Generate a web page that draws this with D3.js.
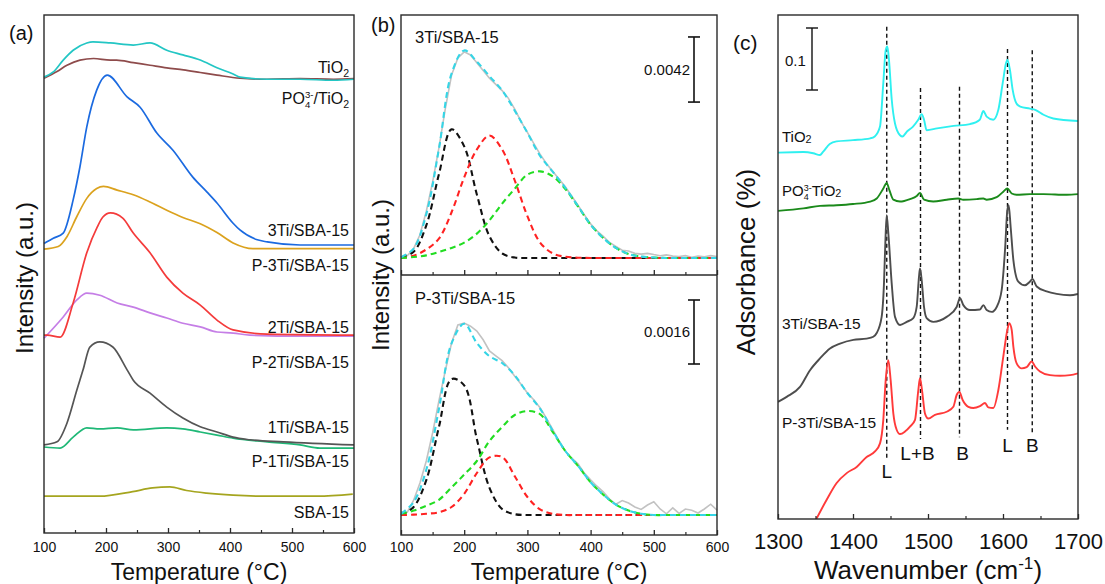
<!DOCTYPE html>
<html>
<head>
<meta charset="utf-8">
<script src="https://cdn.jsdelivr.net/npm/d3@7"></script>
<style>
  body { margin: 0; background: #fff; }
  svg { display: block; }
  text { font-family: "Liberation Sans", Arial, Helvetica, sans-serif; fill: #111; }
</style>
</head>
<body>
<svg id="chart" width="1105" height="584"></svg>
<script>
// ---------------- Panel (a): NH3-TPD profiles, [temperature (°C), intensity (a.u.)] ----------------
const tpdTiO2 = [[100,88.0],[115,89.0],[131,91.3],[147,93.2],[169,94.6],[179,94.8],[207,94.6],[244,94.2],[271,94.6],[298,93.2],[324,92.3],[352,91.3],[379,89.8],[405,88.6],[416,88.0],[460,87.6],[513,87.6],[566,87.4],[600,87.6]];
const tpdPO4TiO2 = [[100,87.8],[121,89.1],[137,90.3],[158,91.3],[180,91.6],[207,91.3],[217,91.3],[244,90.8],[271,90.3],[298,89.8],[325,89.4],[352,88.9],[379,88.4],[416,87.8],[459,87.6],[513,87.7],[567,87.6],[600,87.7]];
const tpd3Ti = [[100,55.9],[115,56.9],[131,57.9],[147,64.3],[158,70.7],[169,78.4],[185,85.5],[202,88.4],[234,84.2],[255,82.2],[282,77.2],[308,73.9],[340,68.7],[363,65.8],[379,63.7],[405,59.8],[416,58.5],[444,56.6],[460,56.2],[513,55.6],[600,55.6]];
const tpdP3Ti = [[100,54.8],[123,55.3],[137,57.2],[153,61.1],[169,64.6],[185,66.5],[196,66.9],[218,66.2],[244,65.3],[271,63.9],[298,62.3],[324,60.9],[352,59.7],[379,58.0],[405,56.0],[437,54.9],[513,54.9],[600,54.9]];
const tpd2Ti = [[100,38.2],[105,38.2],[126,37.8],[147,44.4],[169,54.1],[186,59.1],[195,61.0],[207,61.8],[227,60.8],[244,57.9],[271,54.1],[298,49.4],[324,46.3],[352,44.0],[379,41.1],[405,39.2],[460,38.4],[600,38.2]];
const tpdP2Ti = [[100,37.6],[131,41.7],[153,45.0],[169,46.3],[190,45.9],[218,44.4],[244,43.6],[271,42.5],[298,41.5],[324,40.5],[352,39.8],[379,38.8],[405,38.6],[432,38.2],[513,38.0],[600,38.0]];
const tpd1Ti = [[100,17.0],[121,17.6],[137,21.2],[153,27.6],[163,31.5],[174,35.9],[190,36.9],[211,35.9],[234,31.5],[244,29.5],[271,27.0],[298,24.3],[324,22.2],[352,20.5],[379,19.5],[405,18.5],[432,18.0],[486,17.6],[600,17.0]];
const tpdP1Ti = [[100,16.6],[126,16.4],[147,18.5],[169,20.3],[190,20.1],[218,20.3],[244,19.9],[298,20.3],[324,20.1],[352,19.5],[379,18.9],[405,18.3],[460,17.6],[513,17.0],[545,16.4],[600,16.4]];
const tpdSBA = [[100,7.1],[190,7.1],[243,8.0],[275,8.7],[303,8.9],[330,8.2],[362,7.7],[405,7.3],[460,7.1],[541,7.1],[598,7.5]];

// ---------------- Panel (b): peak fitting, intensity in units of 1e-3 ----------------
const measTemps = [100,110,120,130,140,150,160,170,180,190,200,210,220,230,240,250,260,270,280,290,300,310,320,330,340,350,360,370,380,390,400,410,420,430,440,450,460,470,480,490,500,510,520,530,540,550,560,570,580,590,600];
const fitTemps = [100,120,140,160,180,200,220,240,260,280,300,320,340,360,380,400,420,440,460,480,500,520,540,560,580,600];

const meas3Ti = [0.0,0.15,0.6,1.5,3.0,4.9,7.1,9.6,11.8,12.9,13.3,13.1,12.6,12.1,11.6,11.2,10.8,10.3,9.6,8.8,8.1,7.4,6.7,6.1,5.6,5.1,4.6,4.0,3.4,2.8,2.2,1.75,1.4,1.0,0.75,0.5,0.45,0.3,0.25,0.3,0.22,0.15,0.2,0.12,0.1,0.15,0.05,0.12,0.08,0.15,0.1];
const fit3TiPeak1 = [0.05,0.4,2.1,5.4,8.3,7.2,4.1,1.4,0.3,0.03,0,0,0,0,0,0,0,0,0,0,0,0,0,0,0,0];
const fit3TiPeak2 = [0,0.15,0.55,1.25,2.95,5.2,7.0,7.9,7.0,5.0,2.7,1.0,0.3,0.08,0.02,0,0,0,0,0,0,0,0,0,0,0];
const fit3TiPeak3 = [0,0.06,0.17,0.39,0.65,0.99,1.57,2.43,3.51,4.47,5.38,5.59,5.27,4.45,3.33,2.15,1.29,0.65,0.26,0.09,0.03,0,0,0,0,0];
const fit3TiSum = [0.05,0.61,2.82,7.04,11.9,13.39,12.67,11.73,10.81,9.5,8.08,6.59,5.57,4.53,3.35,2.15,1.29,0.65,0.26,0.09,0.03,0,0,0,0,0];

const measP3Ti = [0.08,0.07,0.37,0.8,1.35,2.05,2.85,3.6,4.3,4.75,4.8,4.72,4.6,4.38,4.1,3.98,3.86,3.68,3.47,3.27,3.05,2.88,2.68,2.42,2.14,1.85,1.6,1.42,1.28,1.05,0.88,0.72,0.58,0.4,0.27,0.36,0.3,0.2,0.14,0.25,0.33,0.15,0.03,0.18,0.04,0.15,0.12,0.05,0.15,0.27,0.12];
const fitP3TiPeak1 = [0,0.2,0.87,2.2,3.4,3.24,1.9,0.68,0.15,0.02,0,0,0,0,0,0,0,0,0,0,0,0,0,0,0,0];
const fitP3TiPeak2 = [0,0.01,0.03,0.07,0.2,0.53,1.05,1.44,1.45,0.97,0.45,0.14,0.03,0,0,0,0,0,0,0,0,0,0,0,0,0];
const fitP3TiPeak3 = [0.03,0.11,0.23,0.38,0.69,1.01,1.35,1.85,2.2,2.5,2.6,2.52,2.08,1.6,1.23,0.82,0.51,0.26,0.11,0.03,0,0,0,0,0,0];
const fitP3TiSum = [0.03,0.32,1.13,2.65,4.29,4.78,4.3,3.97,3.8,3.49,3.05,2.66,2.11,1.6,1.23,0.82,0.51,0.26,0.11,0.03,0,0,0,0,0,0];

// scale bars (values in units of 1e-3)
const scaleBar3Ti = 4.2, scaleBarP3Ti = 1.6;

// ---------------- Panel (c): pyridine-IR spectra, [wavenumber (cm-1), absorbance] ----------------
const irTiO2 = [[1300,0.591],[1334,0.592],[1347,0.590],[1356,0.587],[1360,0.592],[1369,0.605],[1378,0.609],[1400,0.611],[1423,0.614],[1429,0.617],[1436,0.633],[1440.4,0.703],[1443.6,0.756],[1445.8,0.762],[1448,0.740],[1451.6,0.677],[1456,0.638],[1462.7,0.619],[1466,0.617],[1472,0.625],[1480,0.633],[1487,0.644],[1491.6,0.653],[1494.7,0.644],[1498.2,0.627],[1512,0.630],[1534,0.634],[1556,0.637],[1569,0.644],[1573.8,0.658],[1578.2,0.649],[1587,0.644],[1593.8,0.660],[1599.6,0.703],[1604,0.735],[1605.8,0.741],[1609.3,0.724],[1612.9,0.692],[1618,0.670],[1623,0.665],[1636,0.662],[1643,0.660],[1654,0.652],[1667,0.646],[1700,0.642]];
const irPO4TiO2 = [[1300,0.497],[1334,0.501],[1356,0.505],[1378,0.506],[1400,0.508],[1423,0.512],[1431.6,0.517],[1440.4,0.533],[1444.9,0.542],[1448.4,0.531],[1453.8,0.515],[1462.7,0.512],[1476,0.516],[1485,0.521],[1489.3,0.526],[1494.7,0.515],[1507,0.512],[1525,0.515],[1540.4,0.517],[1547,0.515],[1565,0.516],[1573.8,0.517],[1578.2,0.515],[1591.6,0.519],[1600.4,0.528],[1605.8,0.533],[1611.6,0.525],[1618,0.523],[1636,0.524],[1654,0.524],[1685,0.523],[1700,0.524]];
const ir3Ti = [[1300,0.189],[1311.6,0.197],[1329.3,0.213],[1342.7,0.240],[1356,0.259],[1369.3,0.275],[1382.7,0.283],[1400.4,0.289],[1418.2,0.291],[1427.1,0.294],[1431.6,0.300],[1438.2,0.326],[1441.3,0.380],[1443.1,0.445],[1444.9,0.490],[1447.1,0.461],[1451.6,0.380],[1456,0.326],[1462.7,0.313],[1471.6,0.318],[1480.4,0.324],[1484.9,0.342],[1488,0.391],[1489.3,0.404],[1491.6,0.385],[1494.7,0.342],[1498.2,0.324],[1507.1,0.318],[1524.9,0.326],[1538.2,0.342],[1542.7,0.356],[1547.1,0.345],[1556,0.337],[1569.3,0.338],[1573.8,0.345],[1578.2,0.337],[1584.9,0.334],[1591.6,0.342],[1598.2,0.369],[1602.7,0.434],[1605.8,0.498],[1607.6,0.506],[1610.2,0.471],[1613.8,0.418],[1620.4,0.383],[1629.3,0.377],[1636,0.383],[1639.1,0.387],[1644.9,0.375],[1658.2,0.367],[1671.6,0.363],[1689.3,0.361],[1700,0.363]];
const irP3Ti = [[1347,-0.01],[1351.6,0.001],[1364.9,0.031],[1378.2,0.058],[1391.6,0.074],[1404.9,0.084],[1418.2,0.100],[1429.3,0.109],[1436,0.122],[1440.4,0.160],[1443.6,0.224],[1447.1,0.256],[1450.2,0.224],[1453.8,0.170],[1458.2,0.144],[1462.7,0.137],[1469.3,0.141],[1476,0.149],[1482.7,0.160],[1487.1,0.208],[1489.3,0.227],[1492,0.208],[1496,0.170],[1500.4,0.162],[1509.3,0.168],[1524.9,0.173],[1533.8,0.181],[1538.2,0.200],[1541.8,0.205],[1546.2,0.192],[1553.8,0.181],[1560.4,0.179],[1569.3,0.182],[1576,0.187],[1580.4,0.180],[1587.1,0.179],[1593.8,0.208],[1600.4,0.262],[1605.8,0.305],[1608.4,0.316],[1611.6,0.305],[1613.8,0.278],[1618.2,0.251],[1624.9,0.243],[1631.6,0.245],[1638.2,0.254],[1642.7,0.246],[1649.3,0.238],[1662.7,0.232],[1676,0.231],[1689.3,0.232],[1700,0.235]];

// band assignments: wavenumber, label, and the absorbance span of the guide line
const bandWn = [1445, 1490, 1542, 1606, 1639];
const bandLabels = ["L", "L+B", "B", "L", "B"];
const bandTop = [0.794, 0.695, 0.697, 0.758, 0.756];
const bandBottom = [0.095, 0.129, 0.132, 0.144, 0.140];
const irScaleBar = 0.1;

const tempTicks = [100, 200, 300, 400, 500, 600];
const tempMinor = [150, 250, 350, 450, 550];
const wnTicks = [1300, 1400, 1500, 1600, 1700];
const wnMinor = [1350, 1450, 1550, 1650];

// ---------------- drawing ----------------
const svg = d3.select("#chart");
const FONT = '"Liberation Sans", Arial, Helvetica, sans-serif';

// text with sub/superscripts; parts are strings or {sub}, {sup}, {stack:[sup, sub]}
function richText(g, x, y, parts, size, anchor, rotate) {
  const grp = g.append("g");
  const inner = grp.append("g");
  let cx = 0;
  const add = (t, dx, dy, fs) => inner.append("text").attr("x", cx + dx).attr("y", dy)
      .attr("font-size", fs).text(t);
  parts.forEach(p => {
    if (typeof p === "string") {
      cx += add(p, 0, 0, size).node().getComputedTextLength();
    } else if (p.sub !== undefined) {
      cx += add(p.sub, 0, size * (p.shift !== undefined ? p.shift : 0.22), size * (p.scale || 0.66)).node().getComputedTextLength();
    } else if (p.sup !== undefined) {
      cx += add(p.sup, 0, -size * 0.4, size * 0.66).node().getComputedTextLength();
    } else if (p.stack) {
      const a = add(p.stack[0], 0, -size * 0.36, size * 0.6).node().getComputedTextLength();
      const b = add(p.stack[1], 0, size * 0.24, size * 0.6).node().getComputedTextLength();
      cx += Math.max(a, b);
    }
  });
  const off = anchor === "end" ? -cx : anchor === "middle" ? -cx / 2 : 0;
  inner.attr("transform", `translate(${off},0)`);
  grp.attr("transform", `translate(${x},${y})` + (rotate ? ` rotate(${rotate})` : ""));
  return grp;
}

function frame(x0, y0, x1, y1) {
  svg.append("rect").attr("x", x0).attr("y", y0).attr("width", x1 - x0).attr("height", y1 - y0)
    .attr("fill", "none").attr("stroke", "#2a2a2a").attr("stroke-width", 1.4);
}

function bottomAxis(scale, y, major, minor, pad, fs, labels) {
  const ax = svg.append("g").attr("transform", `translate(0,${y})`)
    .call(d3.axisBottom(scale).tickValues(major).tickSize(-5).tickSizeOuter(0).tickPadding(pad)
      .tickFormat(labels ? d3.format("d") : () => ""));
  ax.select(".domain").remove();
  ax.selectAll(".tick line").attr("stroke", "#2a2a2a").attr("stroke-width", 1.3);
  ax.selectAll(".tick text").attr("font-size", fs).attr("font-family", FONT).attr("fill", "#111");
  const mn = svg.append("g").attr("transform", `translate(0,${y})`)
    .call(d3.axisBottom(scale).tickValues(minor).tickSize(-3).tickSizeOuter(0).tickFormat(() => ""));
  mn.select(".domain").remove();
  mn.selectAll(".tick line").attr("stroke", "#2a2a2a").attr("stroke-width", 1.2);
}

// ===== Panel (a) =====
const xA = d3.scaleLinear().domain([100, 600]).range([44, 354]);
const yA = d3.scaleLinear().domain([0, 100]).range([533, 15]);
const lineA = d3.line().x(d => xA(d[0])).y(d => yA(d[1])).curve(d3.curveMonotoneX);

const seriesA = [
  { data: tpdSBA, color: "#a5a51f", label: ["SBA-15"], ly: 518 },
  { data: tpdP1Ti, color: "#1fb877", label: ["P-1Ti/SBA-15"], ly: 467 },
  { data: tpd1Ti, color: "#555555", label: ["1Ti/SBA-15"], ly: 433 },
  { data: tpdP2Ti, color: "#c57ee6", label: ["P-2Ti/SBA-15"], ly: 368 },
  { data: tpd2Ti, color: "#f43b3b", label: ["2Ti/SBA-15"], ly: 333 },
  { data: tpdP3Ti, color: "#dba21e", label: ["P-3Ti/SBA-15"], ly: 271 },
  { data: tpd3Ti, color: "#1b6ae0", label: ["3Ti/SBA-15"], ly: 236 },
  { data: tpdPO4TiO2, color: "#8e4b4b", label: ["PO", { stack: ["3-", "4"] }, "/TiO", { sub: "2" }], ly: 104 },
  { data: tpdTiO2, color: "#23c6c4", label: ["TiO", { sub: "2" }], ly: 73 }
];
const gA = svg.append("g");
seriesA.forEach(s => {
  gA.append("path").attr("d", lineA(s.data)).attr("fill", "none")
    .attr("stroke", s.color).attr("stroke-width", 1.7).attr("stroke-linejoin", "round");
});
seriesA.forEach(s => richText(gA, 349, s.ly, s.label, 16, "end"));
frame(44, 15, 354, 533);
bottomAxis(xA, 533, tempTicks, tempMinor, 9, 14, true);
svg.append("text").attr("x", 199).attr("y", 580).attr("text-anchor", "middle").attr("font-size", 23).text("Temperature (°C)");
svg.append("text").attr("transform", "translate(33,278) rotate(-90)").attr("text-anchor", "middle").attr("font-size", 24).text("Intensity (a.u.)");
svg.append("text").attr("x", 9).attr("y", 40).attr("font-size", 20).text("(a)");

// ===== Panel (b) =====
const xB = d3.scaleLinear().domain([100, 600]).range([401, 717]);
const yBtop = d3.scaleLinear().domain([-1.097, 15.677]).range([275, 15]);
const yBbot = d3.scaleLinear().domain([-0.5, 6.0]).range([535, 275]);

function fitPanel(yS, meas, peaks, sum, title, titleY, bar, barTop, barLabel, labelY) {
  const g = svg.append("g");
  const measLine = d3.line().x((d, i) => xB(measTemps[i])).y(d => yS(d)).curve(d3.curveLinear);
  const fitLine = d3.line().x((d, i) => xB(fitTemps[i])).y(d => yS(d)).curve(d3.curveCatmullRom.alpha(0.5));
  g.append("path").attr("d", measLine(meas)).attr("fill", "none").attr("stroke", "#c2c2c2").attr("stroke-width", 1.6);
  const cols = ["#111111", "#ff2222", "#22dd22"];
  peaks.forEach((p, k) => g.append("path").attr("d", fitLine(p)).attr("fill", "none")
    .attr("stroke", cols[k]).attr("stroke-width", 2.1).attr("stroke-dasharray", "6,4"));
  g.append("path").attr("d", fitLine(sum)).attr("fill", "none")
    .attr("stroke", "#35d5e6").attr("stroke-width", 2.1).attr("stroke-dasharray", "6,4");
  g.append("text").attr("x", 415).attr("y", titleY).attr("font-size", 16.5).text(title);
  const bx = 694, y0 = yS(barTop), y1 = yS(barTop - bar);
  g.append("line").attr("x1", bx).attr("x2", bx).attr("y1", y0).attr("y2", y1).attr("stroke", "#111").attr("stroke-width", 1.6);
  [y0, y1].forEach(yy => g.append("line").attr("x1", bx - 6).attr("x2", bx + 6).attr("y1", yy).attr("y2", yy).attr("stroke", "#111").attr("stroke-width", 1.6));
  g.append("text").attr("x", 690).attr("y", labelY).attr("text-anchor", "end").attr("font-size", 15).text(barLabel);
}
fitPanel(yBtop, meas3Ti, [fit3TiPeak1, fit3TiPeak2, fit3TiPeak3], fit3TiSum, "3Ti/SBA-15", 43, scaleBar3Ti, 14.26, "0.0042", 75);
fitPanel(yBbot, measP3Ti, [fitP3TiPeak1, fitP3TiPeak2, fitP3TiPeak3], fitP3TiSum, "P-3Ti/SBA-15", 304, scaleBarP3Ti, 5.375, "0.0016", 337);
frame(401, 15, 717, 535);
svg.append("line").attr("x1", 401).attr("x2", 717).attr("y1", 275).attr("y2", 275).attr("stroke", "#2a2a2a").attr("stroke-width", 1.4);
bottomAxis(xB, 275, tempTicks, tempMinor, 7, 14, false);
bottomAxis(xB, 535, tempTicks, tempMinor, 7, 14, true);
svg.append("text").attr("x", 559).attr("y", 580).attr("text-anchor", "middle").attr("font-size", 23).text("Temperature (°C)");
svg.append("text").attr("transform", "translate(389,275) rotate(-90)").attr("text-anchor", "middle").attr("font-size", 24).text("Intensity (a.u.)");
svg.append("text").attr("x", 371).attr("y", 32).attr("font-size", 20).text("(b)");

// ===== Panel (c) =====
const xC = d3.scaleLinear().domain([1300, 1700]).range([778, 1078]);
const yC = d3.scaleLinear().domain([0, 0.8129]).range([519, 15]);
const lineC = d3.line().x(d => xC(d[0])).y(d => yC(d[1])).curve(d3.curveMonotoneX);
svg.append("clipPath").attr("id", "clipC").append("rect").attr("x", 778).attr("y", 15).attr("width", 300).attr("height", 504);
const gC = svg.append("g").attr("clip-path", "url(#clipC)");

bandWn.forEach((w, i) => {
  gC.append("line").attr("x1", xC(w)).attr("x2", xC(w)).attr("y1", yC(bandTop[i])).attr("y2", yC(bandBottom[i]))
    .attr("stroke", "#111").attr("stroke-width", 1.4).attr("stroke-dasharray", "4,3");
});
const seriesC = [
  { data: irTiO2, color: "#2ff0f0" },
  { data: irPO4TiO2, color: "#1b8a1b" },
  { data: ir3Ti, color: "#4d4d4d" },
  { data: irP3Ti, color: "#ff3a3a" }
];
seriesC.forEach(s => gC.append("path").attr("d", lineC(s.data)).attr("fill", "none")
  .attr("stroke", s.color).attr("stroke-width", 1.9).attr("stroke-linejoin", "round"));

// band labels sit just under each guide line
const bandLabelY = [478, 460, 460, 452, 452];
bandWn.forEach((w, i) => svg.append("text").attr("x", xC(w) + (i === 1 ? -3 : i === 2 ? 3 : 0)).attr("y", bandLabelY[i])
  .attr("text-anchor", "middle").attr("font-size", 19).text(bandLabels[i]));

richText(svg, 782, 142, ["TiO", { sub: "2", shift: 0.08, scale: 0.72 }], 15, "start");
richText(svg, 782, 196, ["PO", { stack: ["3-", "4"] }, "TiO", { sub: "2", shift: 0.08, scale: 0.72 }], 15, "start");
svg.append("text").attr("x", 782).attr("y", 329).attr("font-size", 15.5).text("3Ti/SBA-15");
svg.append("text").attr("x", 782).attr("y", 428).attr("font-size", 15.5).text("P-3Ti/SBA-15");

// absorbance scale bar
{
  const bx = 812, y0 = 28, y1 = y0 + (yC(0) - yC(irScaleBar));
  svg.append("line").attr("x1", bx).attr("x2", bx).attr("y1", y0).attr("y2", y1).attr("stroke", "#111").attr("stroke-width", 1.4);
  [y0, y1].forEach(yy => svg.append("line").attr("x1", bx - 6).attr("x2", bx + 6).attr("y1", yy).attr("y2", yy).attr("stroke", "#111").attr("stroke-width", 1.4));
  svg.append("text").attr("x", 785).attr("y", 66).attr("font-size", 15).text("0.1");
}

frame(778, 15, 1078, 519);
bottomAxis(xC, 519, wnTicks, wnMinor, 14, 22, true);
richText(svg, 928, 579, ["Wavenumber (cm", { sup: "-1" }, ")"], 26, "middle");
svg.append("text").attr("transform", "translate(755,262) rotate(-90)").attr("text-anchor", "middle").attr("font-size", 26).text("Adsorbance (%)");
svg.append("text").attr("x", 733).attr("y", 50).attr("font-size", 21).text("(c)");
</script>
</body>
</html>
